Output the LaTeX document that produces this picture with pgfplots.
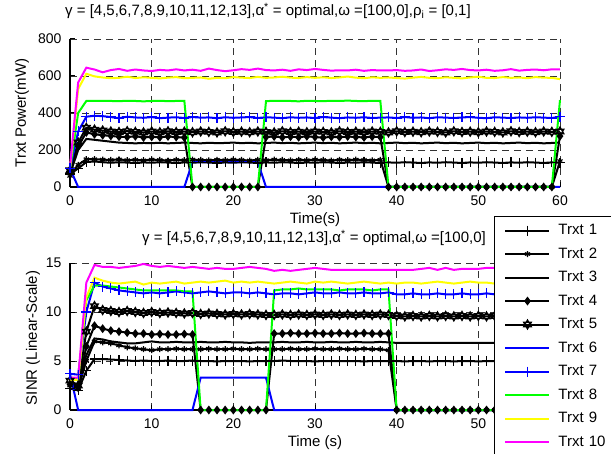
\documentclass[border=0pt]{standalone}
\usepackage{pgfplots}
\usepackage{pgfplotstable}
\pgfplotsset{compat=1.18}
\usepackage{fontspec}
\setmainfont{Liberation Sans}
\definecolor{mblue}{rgb}{0,0,1}
\definecolor{mgreen}{rgb}{0,1,0}
\definecolor{myellow}{rgb}{1,1,0}
\definecolor{mmag}{rgb}{1,0,1}
\pgfdeclareplotmark{hexagram}{%
  \pgfpathmoveto{\pgfqpoint{0pt}{\pgfplotmarksize}}%
  \pgfpathlineto{\pgfqpointpolar{210}{\pgfplotmarksize}}%
  \pgfpathlineto{\pgfqpointpolar{330}{\pgfplotmarksize}}%
  \pgfpathclose
  \pgfpathmoveto{\pgfqpoint{0pt}{-\pgfplotmarksize}}%
  \pgfpathlineto{\pgfqpointpolar{30}{\pgfplotmarksize}}%
  \pgfpathlineto{\pgfqpointpolar{150}{\pgfplotmarksize}}%
  \pgfpathclose
  \pgfusepathqstroke}

\pgfplotstableread{
t s1 s2 s3 s4 s5 s6 s7 s8 s9 s10
0  70  60  70  80  90  100 100 100 100 110
1  100 120 200 220 240 0   300 400 530 565
2  135 150 260 295 320 0   380 465 612 645
3  138 150 255 285 310 0   385 466 598 635
4  134 148 250 280 305 0   383 465 592 620
5  131 146 245 276 300 0   378 465 588 632
6  134 149 240 272 297 0   372 464 590 638
7  132 145 238 270 302 0   380 466 596 628
8  130 147 236 274 298 0   376 465 589 635
9  133 144 238 268 295 0   374 463 593 630
10 131 148 237 271 300 0   378 465 590 627
11 134 146 239 269 296 0   372 466 587 633
12 132 143 236 273 301 0   375 464 591 630
13 130 147 238 270 297 0   377 465 594 636
14 133 145 240 267 299 0   373 466 588 630
15 131 148 238 0   296 135 378 0   590 634
16 134 146 236 0   300 135 375 0   592 628
17 132 144 239 0   298 135 376 0   585 640
18 130 147 237 0   295 135 372 0   590 632
19 133 145 238 0   301 135 377 0   588 626
20 131 148 240 0   297 135 374 0   594 631
21 134 146 237 0   299 135 376 0   591 637
22 132 143 239 0   296 135 378 0   589 633
23 130 147 236 0   300 135 373 0   595 640
24 133 145 238 270 298 0   377 464 590 632
25 131 148 240 273 295 0   375 466 592 630
26 134 146 237 268 301 0   372 465 596 634
27 132 144 239 272 297 0   377 465 591 628
28 130 147 236 269 299 0   374 463 589 636
29 133 145 238 274 296 0   376 466 594 632
30 131 148 240 270 300 0   373 465 590 638
31 134 146 237 267 298 0   378 464 593 633
32 132 143 239 271 295 0   375 466 589 629
33 130 147 236 269 301 0   372 465 592 631
34 133 145 238 273 297 0   376 467 597 630
35 131 148 240 270 299 0   374 465 591 634
36 134 146 237 268 296 0   377 464 588 628
37 132 144 239 272 300 0   373 466 593 632
38 130 147 236 270 298 0   375 465 590 630
39 133 0   238 0   295 0   376 0   592 630
40 131 0   240 0   301 0   373 0   589 632
41 134 0   237 0   297 0   378 0   586 628
42 132 0   239 0   299 0   374 0   591 630
43 130 0   236 0   296 0   376 0   595 635
44 133 0   238 0   300 0   372 0   590 627
45 131 0   240 0   298 0   377 0   588 631
46 134 0   237 0   295 0   375 0   593 636
47 132 0   239 0   301 0   373 0   590 633
48 130 0   236 0   297 0   376 0   587 638
49 133 0   238 0   299 0   378 0   592 632
50 131 0   240 0   296 0   374 0   596 630
51 134 0   237 0   300 0   372 0   590 634
52 132 0   239 0   298 0   377 0   589 628
53 130 0   236 0   295 0   375 0   594 631
54 133 0   238 0   301 0   373 0   590 637
55 131 0   240 0   297 0   376 0   592 629
56 134 0   237 0   299 0   374 0   588 633
57 132 0   239 0   296 0   377 0   594 635
58 130 0   236 0   300 0   375 0   591 631
59 133 0   238 0   298 0   373 0   590 636
60 131 140 240 275 300 0   380 470 583 636
}\powtab

\pgfplotstableread{
t s1 s2 s3 s4 s5 s6 s7 s8 s9 s10
0  2.2  2.5  2.8  2.6  3.0  3.7 3.7  3.3  3.0  3.3
1  2.0  2.2  2.4  2.3  2.5  0   3.6  3.2  3.1  3.3
2  4.0  5.0  5.6  6.5  8.0  0   10.0 11.2 11.5 13.0
3  5.2  7.0  7.3  8.6  10.6 0   13.0 12.7 13.5 14.8
4  5.2  6.9  7.2  8.3  10.2 0   12.6 12.7 13.2 14.6
5  5.15 6.8  7.0  8.1  10.1 0   12.4 12.6 13.0 14.6
6  5.1  6.6  6.9  8.0  10.0 0   12.2 12.5 12.9 14.5
7  5.05 6.4  6.8  7.9  10.1 0   12.1 12.4 13.0 14.6
8  5.0  6.3  6.8  7.8  10.0 0   12.0 12.3 13.1 14.7
9  5.05 6.2  6.9  7.8  9.9  0   11.9 12.2 12.8 14.9
10 5.0  6.1  7.0  7.7  10.0 0   12.0 12.2 13.0 14.7
11 5.0  6.2  6.9  7.75 9.9  0   11.9 12.2 12.9 14.6
12 5.05 6.2  6.9  7.7  9.95 0   12.0 12.2 13.0 14.7
13 5.0  6.25 6.95 7.7  9.9  0   12.1 12.2 13.1 14.6
14 5.0  6.2  6.9  7.75 9.85 0   12.0 12.1 12.9 14.5
15 5.05 6.2  6.9  7.7  9.9  0   11.9 12.1 13.0 14.6
16 5.0  6.2  6.95 0    9.8  3.3 12.0 0    13.1 14.5
17 5.0  6.25 6.9  0    9.85 3.3 12.1 0    13.0 14.4
18 4.95 6.2  6.9  0    9.8  3.3 12.0 0    13.1 14.5
19 5.0  6.2  6.95 0    9.75 3.3 11.9 0    13.2 14.4
20 5.0  6.25 6.9  0    9.8  3.3 12.0 0    13.0 14.4
21 5.0  6.2  6.9  0    9.75 3.3 12.0 0    13.1 14.5
22 4.95 6.2  6.85 0    9.8  3.3 11.9 0    13.0 14.6
23 5.0  6.25 6.9  0    9.75 3.3 12.0 0    13.1 14.5
24 5.0  6.2  6.9  0    9.7  3.3 11.9 0    13.0 14.4
25 5.0  6.2  6.9  7.8  9.7  0   11.8 12.2 12.9 14.2
26 5.05 6.2  6.95 7.8  9.75 0   11.9 12.3 13.0 14.3
27 5.0  6.25 6.9  7.85 9.7  0   11.9 12.3 13.1 14.2
28 5.0  6.2  6.9  7.8  9.75 0   11.8 12.4 13.0 14.3
29 5.0  6.2  6.95 7.8  9.7  0   11.9 12.3 12.9 14.4
30 4.95 6.25 6.9  7.85 9.75 0   12.0 12.3 13.1 14.5
31 5.0  6.2  6.9  7.8  9.7  0   11.9 12.3 13.0 14.4
32 5.0  6.2  6.95 7.8  9.75 0   11.9 12.3 13.1 14.3
33 5.0  6.25 6.9  7.85 9.7  0   12.0 12.2 13.0 14.3
34 5.0  6.2  6.9  7.8  9.75 0   11.9 12.3 12.9 14.3
35 5.0  6.2  6.95 7.8  9.7  0   11.9 12.3 13.0 14.3
36 4.95 6.25 6.9  7.85 9.75 0   12.0 12.3 13.1 14.3
37 5.0  6.2  6.9  7.8  9.7  0   11.9 12.2 13.0 14.3
38 5.0  6.2  6.95 7.8  9.75 0   11.9 12.3 12.9 14.3
39 5.0  6.1  6.9  7.8  9.7  0   12.0 12.3 13.0 14.3
40 5.0  0    6.85 0    9.6  0   11.8 0    12.9 14.3
41 4.95 0    6.85 0    9.55 0   11.8 0    13.0 14.3
42 5.0  0    6.85 0    9.6  0   11.9 0    13.0 14.3
43 5.0  0    6.85 0    9.55 0   11.8 0    12.9 14.4
44 4.95 0    6.85 0    9.6  0   11.8 0    13.0 14.5
45 5.0  0    6.85 0    9.55 0   11.9 0    13.1 14.3
46 5.0  0    6.85 0    9.6  0   11.8 0    13.0 14.5
47 4.95 0    6.85 0    9.55 0   11.8 0    12.9 14.3
48 5.0  0    6.85 0    9.6  0   11.9 0    13.0 14.4
49 5.0  0    6.85 0    9.55 0   11.8 0    13.1 14.4
50 4.95 0    6.85 0    9.6  0   11.8 0    13.0 14.4
51 5.0  0    6.85 0    9.55 0   11.9 0    13.0 14.5
52 5.0  0    6.85 0    9.6  0   11.8 0    12.9 14.5
53 4.95 0    6.85 0    9.55 0   11.8 0    13.0 14.4
54 5.0  0    6.85 0    9.6  0   11.9 0    13.1 14.4
55 5.0  0    6.85 0    9.55 0   11.8 0    13.0 14.5
56 4.95 0    6.85 0    9.6  0   11.8 0    12.9 14.4
57 5.0  0    6.85 0    9.55 0   11.9 0    13.0 14.5
58 5.0  0    6.85 0    9.6  0   11.8 0    13.1 14.4
59 4.95 0    6.85 0    9.55 0   11.8 0    13.0 14.4
60 5.0  0    6.85 0    9.6  0   11.9 0    13.0 14.5
}\sinrtab

\pgfplotsset{
  s1/.style={black, line width=2pt, mark=+, mark size=5pt},
  s2/.style={black, line width=2pt, mark=asterisk, mark size=3pt},
  s3/.style={black, line width=2pt, no marks},
  s4/.style={black, line width=2pt, mark=diamond*, mark size=3.5pt},
  s5/.style={black, line width=2pt, mark=hexagram, mark size=4.5pt},
  s6/.style={mblue, line width=2pt, no marks},
  s7/.style={mblue, line width=2pt, mark=+, mark size=5pt},
  s8/.style={mgreen, line width=2pt, no marks},
  s9/.style={myellow, line width=2pt, no marks},
  s10/.style={mmag, line width=2pt, no marks},
  myax/.style={
    scale only axis, width=490pt,
    xmin=0, xmax=60, xtick={0,10,...,60},
    axis x line*=bottom, axis y line*=left,
    axis line style={line width=1.8pt, black, -},
    tick align=inside, major tick length=5pt,
    tick style={black, line width=1pt},
    grid=major,
    grid style={black!80, line width=0.8pt, dash pattern=on 7pt off 5pt},
    font=\fontsize{15}{18}\selectfont,
    tick label style={font=\fontsize{14}{16}\selectfont},
    /pgf/number format/assume math mode=true,
    xticklabel style={yshift=-5pt},
    yticklabel style={xshift=-5pt},
    clip=false,
    every axis plot/.append style={mark options={solid, line width=1.2pt}},
  },
}

\begin{document}
\begin{tikzpicture}
\useasboundingbox (0,0) rectangle (611pt,453pt);
\begin{axis}[myax,
  at={(70pt,266pt)}, anchor=south west, height=148pt,
  ymin=0, ymax=800, ytick={0,200,...,800},
  title={γ = [4,5,6,7,8,9,10,11,12,13],α\textsuperscript{*} = optimal,ω =[100,0],ρ\textsubscript{i} = [0,1]},
  title style={at={(axis description cs:0.404,1)}, anchor=center, yshift=22pt},
  xlabel={Time(s)},
  xlabel style={at={(axis description cs:0.5,0)}, anchor=center, yshift=-33pt},
  ylabel={Trxt Power(mW)},
  ylabel style={at={(axis description cs:-0.098,0.5)}, anchor=center},
]
\addplot[s1] table[x=t,y=s1] {\powtab};
\addplot[s2] table[x=t,y=s2] {\powtab};
\addplot[s3] table[x=t,y=s3] {\powtab};
\addplot[s4] table[x=t,y=s4] {\powtab};
\addplot[s5] table[x=t,y=s5] {\powtab};
\addplot[s6] table[x=t,y=s6] {\powtab};
\addplot[s7] table[x=t,y=s7] {\powtab};
\addplot[s8] table[x=t,y=s8] {\powtab};
\addplot[s9] table[x=t,y=s9] {\powtab};
\addplot[s10] table[x=t,y=s10] {\powtab};
\end{axis}
\begin{axis}[myax,
  at={(70pt,43pt)}, anchor=south west, height=147pt,
  ymin=0, ymax=15, ytick={0,5,10,15},
  xticklabels={0,10,20,30,40,50,{}},
  title={γ = [4,5,6,7,8,9,10,11,12,13],α\textsuperscript{*} = optimal,ω =[100,0]},
  title style={at={(axis description cs:0.498,1)}, anchor=center, yshift=19pt},
  xlabel={Time (s)},
  xlabel style={at={(axis description cs:0.5,0)}, anchor=center, yshift=-33pt},
  ylabel={SINR (Linear-Scale)},
  ylabel style={at={(axis description cs:-0.0755,0.49)}, anchor=center},
  legend style={at={(axis description cs:0.8653,1.3197)}, anchor=north west,
    draw=black, line width=1pt, fill=white,
    inner xsep=10pt, inner ysep=8pt, row sep=11.5pt, column sep=8pt,
    nodes={inner sep=0pt, text height=10pt, text depth=2pt, text width=70pt, align=left},
    font=\fontsize{15}{18}\selectfont},
  legend cell align=left,
  legend image code/.code={\draw[#1, mark repeat=2, mark phase=2] plot coordinates {(0pt,0pt) (22pt,0pt) (44pt,0pt)};},
]
\addplot[s1] table[x=t,y=s1] {\sinrtab};
\addplot[s2] table[x=t,y=s2] {\sinrtab};
\addplot[s3] table[x=t,y=s3] {\sinrtab};
\addplot[s4] table[x=t,y=s4] {\sinrtab};
\addplot[s5] table[x=t,y=s5] {\sinrtab};
\addplot[s6] table[x=t,y=s6] {\sinrtab};
\addplot[s7] table[x=t,y=s7] {\sinrtab};
\addplot[s8] table[x=t,y=s8] {\sinrtab};
\addplot[s9] table[x=t,y=s9] {\sinrtab};
\addplot[s10] table[x=t,y=s10] {\sinrtab};
\legend{Trxt 1,Trxt 2,Trxt 3,Trxt 4,Trxt 5,Trxt 6,Trxt 7,Trxt 8,Trxt 9,Trxt 10}
\end{axis}
\end{tikzpicture}
\end{document}
